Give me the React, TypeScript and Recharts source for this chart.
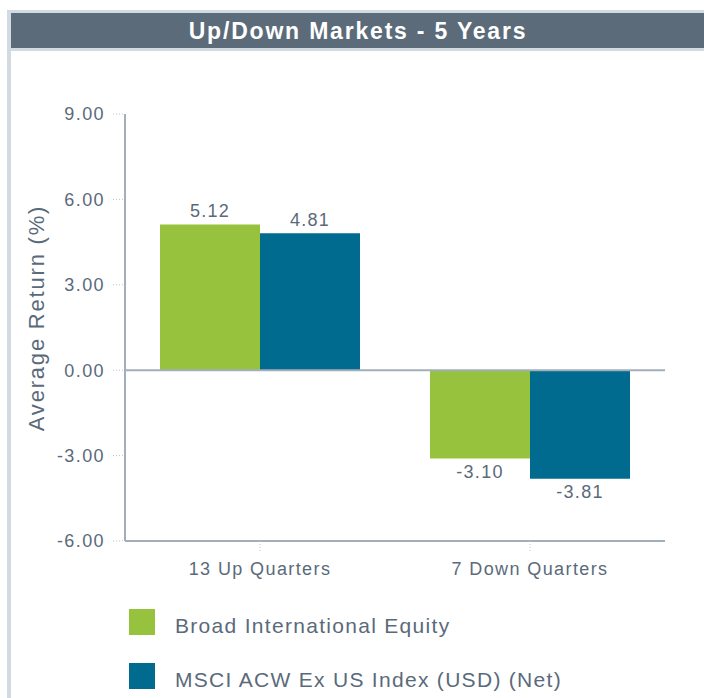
import React from "react";
import { BarChart, Bar, XAxis, YAxis, ReferenceLine, LabelList } from "recharts";

const categories = ["13 Up Quarters", "7 Down Quarters"];
const broadIntl = [5.12, -3.1];
const msciAcwx = [4.81, -3.81];
const yTicks = [-6, -3, 0, 3, 6, 9];
const seriesNames = ["Broad International Equity", "MSCI ACW Ex US Index (USD) (Net)"];

const GREEN = "#97c23d";
const BLUE = "#006a8f";
const AXIS = "#a3aebb";
const TEXT = "#5a6a7a";
const FONT = "'Liberation Sans', Arial, Helvetica, sans-serif";

const data = categories.map((c, i) => ({ name: c, a: broadIntl[i], b: msciAcwx[i] }));

function ValueLabel(props: any) {
  const { x, y, width, height, value } = props;
  const neg = value < 0;
  const cx = x + width / 2;
  const top = Math.min(y, y + height);
  const bottom = Math.max(y, y + height);
  const ty = neg ? bottom + 7 : top - 7;
  return (
    <text
      x={cx}
      y={ty}
      textAnchor="middle"
      dominantBaseline={neg ? "hanging" : "auto"}
      fill={TEXT}
      fontSize={18}
      fontFamily={FONT}
      style={{ letterSpacing: 1.3 }}
    >
      {value.toFixed(2)}
    </text>
  );
}

function YLabel() {
  return (
    <text
      x={36}
      y={318}
      transform="rotate(-90 36 318)"
      textAnchor="middle"
      dominantBaseline="central"
      fill={TEXT}
      fontSize={22}
      fontFamily={FONT}
      style={{ letterSpacing: 1.8 }}
    >
      Average Return (%)
    </text>
  );
}

export default function App() {
  return (
    <div style={{ position: "absolute", left: 0, top: 0, width: 704, height: 698, background: "#fff", overflow: "hidden", fontFamily: FONT }}>
      <div
        style={{
          position: "absolute",
          left: 7,
          top: 10,
          width: 720,
          height: 720,
          borderLeft: "4px solid #d3dbe2",
          borderTop: "3px solid #d3dbe2",
        }}
      />
      <div
        style={{
          position: "absolute",
          left: 11,
          top: 13,
          width: 700,
          height: 35,
          background: "#5b6b7a",
          borderBottom: "3px solid #d3dbe2",
          color: "#fff",
          fontWeight: "bold",
          fontSize: 23,
          letterSpacing: 1.8,
          lineHeight: "36px",
          textAlign: "center",
          textIndent: -6,
        }}
      >
        Up/Down Markets - 5 Years
      </div>
      <div style={{ position: "absolute", left: 0, top: 0 }}>
        <BarChart
          width={704}
          height={698}
          data={data}
          margin={{ top: 114, right: 39, bottom: 117, left: 65 }}
          barGap={0}
        >
          <XAxis
            dataKey="name"
            axisLine={{ stroke: AXIS, strokeWidth: 2 }}
            tickLine={{ stroke: "#c4c4c4", strokeDasharray: "1 2" }}
            tickSize={10}
            tickMargin={11}
            tick={{ fill: TEXT, fontSize: 18, fontFamily: FONT, letterSpacing: 1.4 }}
            height={40}
          />
          <YAxis
            domain={[-6, 9]}
            ticks={yTicks}
            interval={0}
            tickFormatter={(v: number) => v.toFixed(2)}
            axisLine={{ stroke: AXIS, strokeWidth: 2 }}
            tickLine={{ stroke: "#c4c4c4", strokeDasharray: "1 2" }}
            tickSize={12}
            tickMargin={8}
            tick={{ fill: TEXT, fontSize: 18, fontFamily: FONT, letterSpacing: 1.4 }}
            width={60}
            label={<YLabel />}
          />
          <ReferenceLine y={0} stroke={AXIS} strokeWidth={2} />
          <Bar dataKey="a" fill={GREEN} barSize={100} isAnimationActive={false}>
            <LabelList dataKey="a" content={<ValueLabel />} />
          </Bar>
          <Bar dataKey="b" fill={BLUE} barSize={100} isAnimationActive={false}>
            <LabelList dataKey="b" content={<ValueLabel />} />
          </Bar>
        </BarChart>
      </div>
      {seriesNames.map((n, i) => (
        <div key={n} style={{ position: "absolute", left: 129, top: 609 + i * 54, height: 26, display: "flex", alignItems: "center" }}>
          <div style={{ width: 26, height: 26, background: i === 0 ? GREEN : BLUE }} />
          <span style={{ marginLeft: 20, fontSize: 21, letterSpacing: 1.3, color: TEXT, whiteSpace: "nowrap", position: "relative", top: 4 }}>{n}</span>
        </div>
      ))}
    </div>
  );
}
